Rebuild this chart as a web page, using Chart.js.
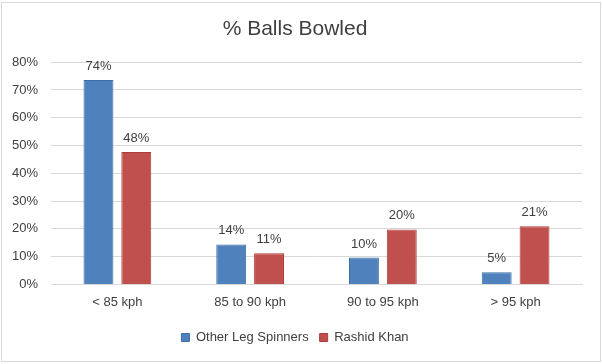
<!DOCTYPE html>
<html>
<head>
<meta charset="utf-8">
<script src="https://cdn.jsdelivr.net/npm/chart.js@4/dist/chart.umd.min.js"></script>
<style>
  html, body { margin: 0; padding: 0; background: #ffffff; }
  #wrap { position: absolute; left: 1px; top: 2px; width: 600px; height: 360px; border: 1px solid #d9d9d9; box-sizing: border-box; background: #fff; }
  canvas { display: block; }
</style>
</head>
<body>
<div id="wrap"><canvas id="c" width="600" height="360"></canvas></div>
<script>
const categories = ["< 85 kph", "85 to 90 kph", "90 to 95 kph", "> 95 kph"];
const otherLegSpinners = [73.6, 14.4, 9.7, 4.4];
const rashidKhan = [47.7, 11.2, 19.8, 20.9];
const otherLabels = ["74%", "14%", "10%", "5%"];
const rashidLabels = ["48%", "11%", "20%", "21%"];
const yTicks = [0, 10, 20, 30, 40, 50, 60, 70, 80];

const FONT = "'Liberation Sans', Arial, sans-serif";

const dataLabelPlugin = {
  id: 'dataLabels',
  afterDatasetsDraw(chart) {
    const ctx = chart.ctx;
    ctx.save();
    ctx.font = "13px " + FONT;
    ctx.fillStyle = "#404040";
    ctx.textAlign = "center";
    ctx.textBaseline = "bottom";
    const labelSets = [otherLabels, rashidLabels];
    chart.data.datasets.forEach((ds, i) => {
      const meta = chart.getDatasetMeta(i);
      meta.data.forEach((bar, j) => {
        ctx.fillText(labelSets[i][j], bar.x, bar.y - 7);
      });
    });
    ctx.restore();
  }
};

new Chart(document.getElementById('c'), {
  type: 'bar',
  data: {
    labels: categories,
    datasets: [
      { label: "Other Leg Spinners", data: otherLegSpinners, backgroundColor: "#4f81bd", borderColor: "#3a6ea8", borderWidth: 1, categoryPercentage: 0.57, barPercentage: 0.79 },
      { label: "Rashid Khan", data: rashidKhan, backgroundColor: "#c0504d", borderColor: "#b03c39", borderWidth: 1, categoryPercentage: 0.57, barPercentage: 0.79 }
    ]
  },
  options: {
    responsive: false,
    animation: false,
    layout: { padding: { left: 6, right: 20, top: 0, bottom: 9 } },
    plugins: {
      title: { display: true, text: "% Balls Bowled", color: "#404040", font: { family: FONT, size: 21, weight: 'normal' }, padding: { top: 14, bottom: 20 } },
      legend: { position: 'bottom', labels: { boxWidth: 8, boxHeight: 8, color: "#404040", font: { family: FONT, size: 13 }, padding: 11 } },
      tooltip: { enabled: false }
    },
    scales: {
      x: {
        grid: { display: false, drawTicks: false },
        border: { display: true, color: "#d9d9d9" },
        ticks: { color: "#404040", font: { family: FONT, size: 13 }, padding: 10 }
      },
      y: {
        min: 0, max: 80,
        afterBuildTicks(scale) { scale.ticks = yTicks.map(v => ({ value: v })); },
        afterFit(scale) { scale.width = 43; },
        grid: { color: "#d9d9d9", drawTicks: false },
        border: { display: false },
        ticks: { color: "#404040", font: { family: FONT, size: 13 }, padding: 13, callback: v => v + "%" }
      }
    }
  },
  plugins: [dataLabelPlugin]
});
</script>
</body>
</html>
